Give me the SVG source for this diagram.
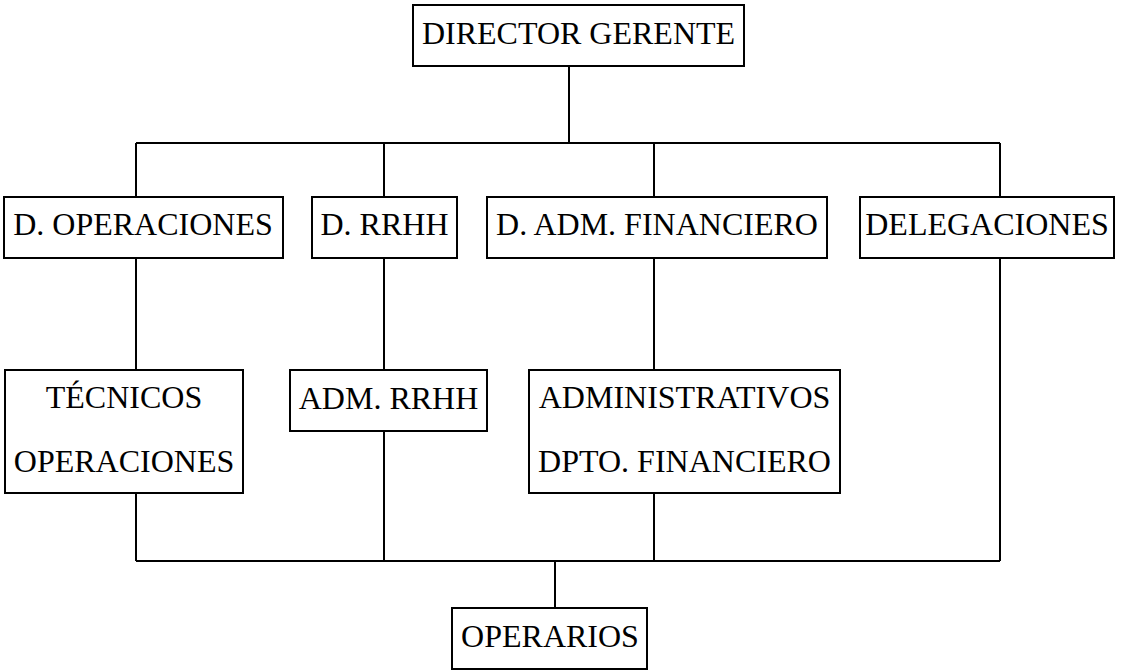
<svg xmlns="http://www.w3.org/2000/svg" width="1121" height="670" viewBox="0 0 1121 670">
<style>
.box{fill:#fff;stroke:#000;stroke-width:2}
.t{font-family:"Liberation Serif","Times New Roman",serif;font-size:32px;fill:#000;text-anchor:middle}
.c{stroke:#000;stroke-width:2;fill:none}
</style>
<rect width="1121" height="670" fill="#fff"/>
<g id="connectors">
<path class="c" d="M569 66V143M136 143H1000M136 143V197M384 143V197M654 143V197M1000 143V197"/>
<path class="c" d="M136 258V370M384 258V370M654 258V370M1000 258V561"/>
<path class="c" d="M136 493V561M384 431V561M654 493V561M136 561H1000M555 561V608"/>
</g>
<g id="director"><rect class="box" x="413" y="5" width="331" height="61"/><text class="t" x="578.5" y="44">DIRECTOR GERENTE</text></g>
<g id="d-operaciones"><rect class="box" x="4" y="197" width="279" height="61"/><text class="t" x="143" y="235">D. OPERACIONES</text></g>
<g id="d-rrhh"><rect class="box" x="312" y="197" width="145" height="61"/><text class="t" x="384.5" y="235">D. RRHH</text></g>
<g id="d-adm-financiero"><rect class="box" x="487" y="197" width="340" height="61"/><text class="t" x="657" y="235">D. ADM. FINANCIERO</text></g>
<g id="delegaciones"><rect class="box" x="860" y="197" width="254" height="61"/><text class="t" x="987" y="235">DELEGACIONES</text></g>
<g id="tecnicos"><rect class="box" x="5" y="370" width="238" height="123"/><text class="t" x="124" y="408">TÉCNICOS</text><text class="t" x="124" y="472">OPERACIONES</text></g>
<g id="adm-rrhh"><rect class="box" x="290" y="370" width="197" height="61"/><text class="t" x="388.5" y="409">ADM. RRHH</text></g>
<g id="administrativos"><rect class="box" x="529" y="370" width="311" height="123"/><text class="t" x="684.5" y="408">ADMINISTRATIVOS</text><text class="t" x="684.5" y="472">DPTO. FINANCIERO</text></g>
<g id="operarios"><rect class="box" x="452" y="608" width="195" height="61"/><text class="t" x="550" y="647">OPERARIOS</text></g>
</svg>
